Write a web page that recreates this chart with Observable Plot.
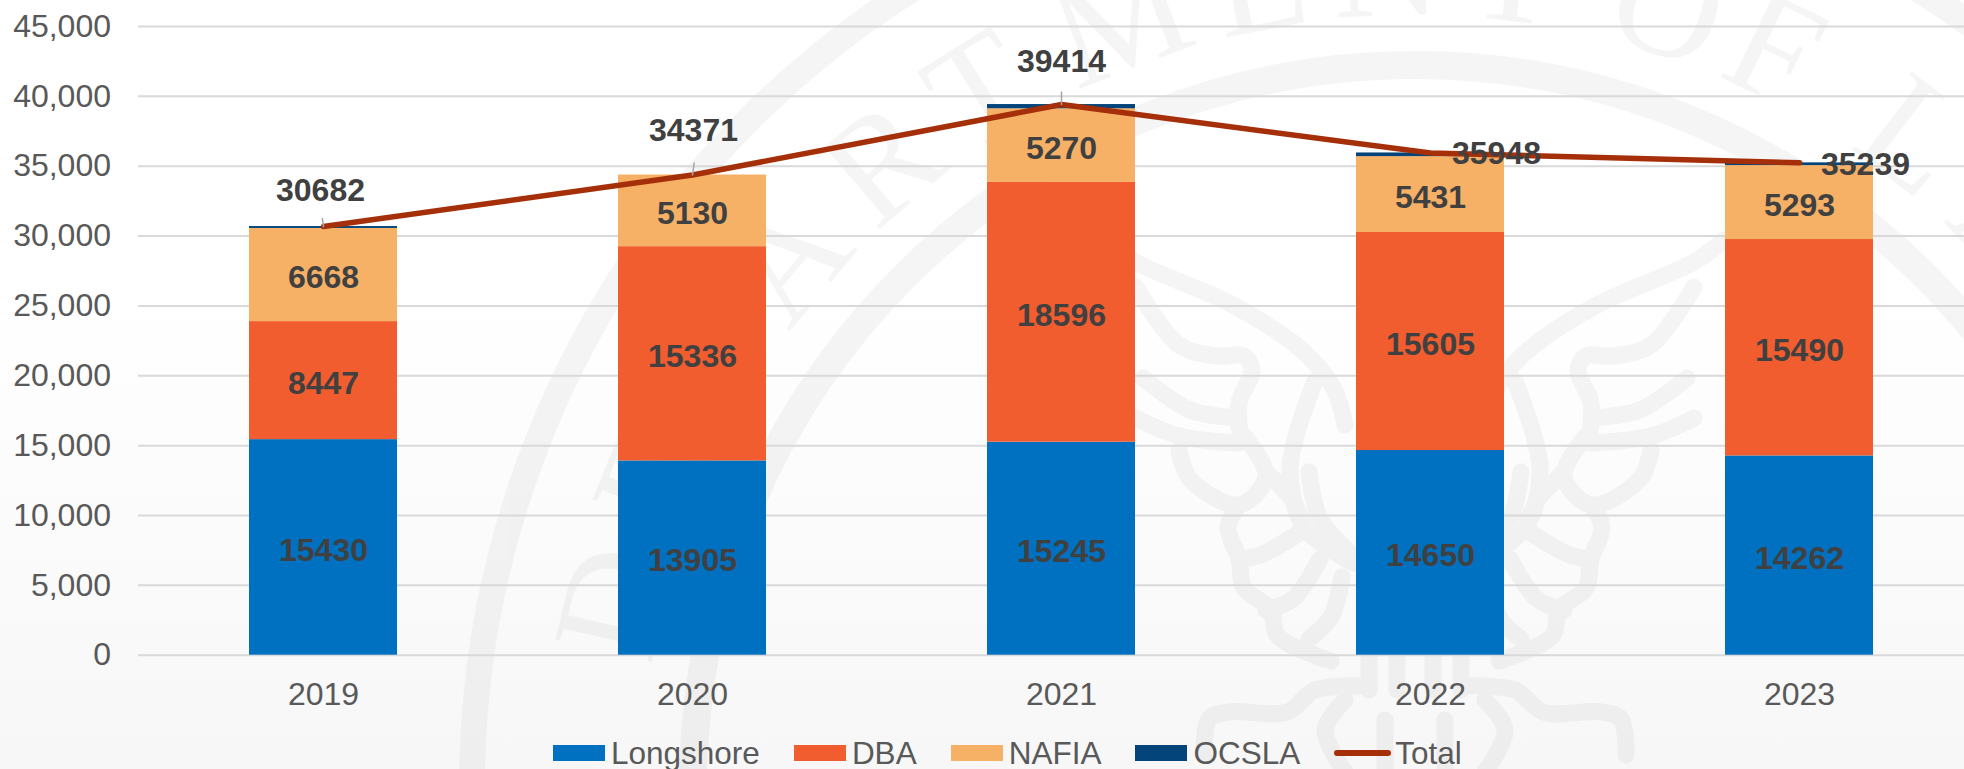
<!DOCTYPE html>
<html>
<head>
<meta charset="utf-8">
<script src="https://cdn.jsdelivr.net/npm/d3@7"></script>
<script src="https://cdn.jsdelivr.net/npm/@observablehq/plot@0.6"></script>
<style>
html,body{margin:0;padding:0;background:#fff;}
#page{position:relative;width:1964px;height:769px;overflow:hidden;
  background:linear-gradient(#fff 0,#fff 38%,#f7f7f7 100%);font-family:"Liberation Sans",Arial,sans-serif;}
#seal{position:absolute;left:0;top:0;}
#chart{position:absolute;left:0;top:0;}
#chart svg{background:transparent;display:block;}
#legend{position:absolute;left:553px;top:734px;display:flex;align-items:center;font-size:31.5px;color:#595959;line-height:38px;white-space:nowrap;}
#legend .item{display:flex;align-items:center;margin-right:34px;}
#legend .sw{width:52px;height:16px;margin-right:6px;}
#legend .ln{width:57px;height:6px;border-radius:3px;margin-right:4px;}
</style>
</head>
<body>
<div id="page">
  <svg id="seal" width="1964" height="769"></svg>
  <div id="chart"></div>
  <div id="legend"></div>
</div>
<script>
const years = ["2019","2020","2021","2022","2023"];
const longshore = [15430,13905,15245,14650,14262];
const dba = [8447,15336,18596,15605,15490];
const nafia = [6668,5130,5270,5431,5293];
const ocsla = [137,0,303,262,194];
const total = [30682,34371,39414,35948,35239];
const seriesNames = ["Longshore","DBA","NAFIA","OCSLA"];
const seriesColors = ["#0070C0","#F15D2F","#F6B166","#03447A"];
const lineColor = "#A52F09";
const yTicks = [0,5000,10000,15000,20000,25000,30000,35000,40000,45000];

// label placement, kept apart from the values
const totalDx = [-3,1,0,66,66];
const totalDy = [-36,-44,-43,1,2];
const leaderLen = [15,22,23,0,0];
const leaderRot = [-8,8,0,0,0];

const seriesValues = [longshore,dba,nafia,ocsla];
const rows = seriesNames.flatMap((s,k)=>years.map((year,i)=>({year,series:s,value:seriesValues[k][i]})));
const totals = years.map((year,i)=>({year,value:total[i],dx:totalDx[i],dy:totalDy[i],len:leaderLen[i],rot:leaderRot[i]}));

// Faint seal watermark behind the chart
(function(){
  const cx=1415, cy=787, ink="#000", op=0.036;
  const svg=d3.select("#seal");
  const g=svg.append("g").attr("opacity",op);
  g.append("circle").attr("cx",cx).attr("cy",cy).attr("r",943).attr("fill","none").attr("stroke",ink).attr("stroke-width",26);
  g.append("circle").attr("cx",cx).attr("cy",cy).attr("r",722).attr("fill","none").attr("stroke",ink).attr("stroke-width",28);
  const letters="DEPARTMENT OF LABOR".replace(/ /g,"").split("");
  const angles=[-77,-68,-59,-50,-40.5,-32,-21,-11,-2,7,18,26,37.5,47,56,65,74];
  letters.forEach((c,i)=>{
    g.append("text").text(c).attr("x",cx).attr("y",cy-772)
     .attr("text-anchor","middle").attr("font-family","Liberation Serif")
     .attr("font-size",150).attr("fill",ink)
     .attr("transform",`rotate(${angles[i]} ${cx} ${cy})`);
  });
  const line=d3.line().curve(d3.curveCatmullRom.alpha(.5));
  const strokes=[
    [[309,240],[279,262],[182,305],[111,352],[81,389],[70,425]],
    [[279,287],[236,345],[198,356],[171,356],[163,370],[176,403],[174,440]],
    [[272,378],[225,410],[176,418]],
    [[279,418],[236,436],[176,443]],
    [[236,450],[225,479],[176,505],[149,476],[171,436]],
    [[176,505],[187,527],[176,559],[171,588],[144,610],[138,635],[106,653],[84,661]],
    [[100,381],[119,436],[125,472],[111,527],[62,563]],
    [[149,472],[122,501],[111,527]],
    [[106,472],[95,519],[62,556]],
    [[111,530],[155,555],[176,559]],
    [[95,559],[122,599],[149,610]],
    [[73,577],[84,617],[106,639]],
    [[211,755],[206,719],[187,712],[128,712],[100,690],[46,686]],
    [[46,653],[46,690]],[[18,653],[18,690]],
    [[70,700],[90,730],[70,772]],
    [[30,720],[30,772]]
  ];
  const w=g.append("g").attr("fill","none").attr("stroke",ink).attr("stroke-width",17).attr("stroke-linecap","round").attr("stroke-linejoin","round");
  [1,-1].forEach(s=>strokes.forEach(p=>{
    w.append("path").attr("d",line(p.map(([dx,y])=>[cx+s*dx,y])));
  }));
})();

const labelFont = 32;
const spike = {draw(c,l){c.moveTo(0,0);c.lineTo(0,-l);}};

const plot = Plot.plot({
  width:1964, height:725,
  marginLeft:138, marginRight:0, marginTop:26, marginBottom:70.3,
  style:{background:"transparent",fontFamily:"Liberation Sans, Arial, sans-serif",overflow:"hidden"},
  x:{type:"band",domain:years,range:[138,1984],paddingInner:0.6,paddingOuter:0.3,align:0.5,label:null},
  y:{domain:[0,45000],label:null},
  color:{type:"ordinal",domain:seriesNames,range:seriesColors},
  marks:[
    Plot.ruleY(yTicks,{stroke:"#D9D9D9",strokeWidth:2}),
    Plot.axisY({ticks:yTicks,tickSize:0,tickPadding:27.5,fontSize:32,label:null,color:"#595959",tickFormat:d3.format(",")}),
    Plot.axisX({tickSize:0,tickPadding:27,fontSize:32,label:null,color:"#595959"}),
    Plot.barY(rows,{x:"year",y:"value",fill:"series",z:"series",order:seriesNames}),
    Plot.line(totals,{x:"year",y:"value",stroke:lineColor,strokeWidth:5.5}),
    Plot.vector(totals.filter(d=>d.len>0),{x:"year",y:"value",length:"len",rotate:"rot",anchor:"start",shape:spike,stroke:"#A6A6A6",strokeWidth:1.5}),
    Plot.text(rows.filter(d=>d.series!=="OCSLA"),Plot.stackY({x:"year",y:"value",z:"series",order:seriesNames,text:d=>String(d.value),fill:"#404040",fontSize:labelFont,fontWeight:"bold",lineAnchor:"middle",dy:3})),
    ...totals.map(d=>Plot.text([d],{x:"year",y:"value",text:r=>String(r.value),dx:d.dx,dy:d.dy,fill:"#404040",fontSize:labelFont,fontWeight:"bold",lineAnchor:"middle"}))
  ]
});
document.getElementById("chart").appendChild(plot);

const legend=document.getElementById("legend");
seriesNames.forEach((s,i)=>{
  const it=document.createElement("div");it.className="item";
  const sw=document.createElement("span");sw.className="sw";sw.style.background=seriesColors[i];
  const t=document.createElement("span");t.textContent=s;
  it.append(sw,t);legend.append(it);
});
const it=document.createElement("div");it.className="item";
const ln=document.createElement("span");ln.className="ln";ln.style.background=lineColor;
const t=document.createElement("span");t.textContent="Total";
it.append(ln,t);legend.append(it);
</script>
</body>
</html>
